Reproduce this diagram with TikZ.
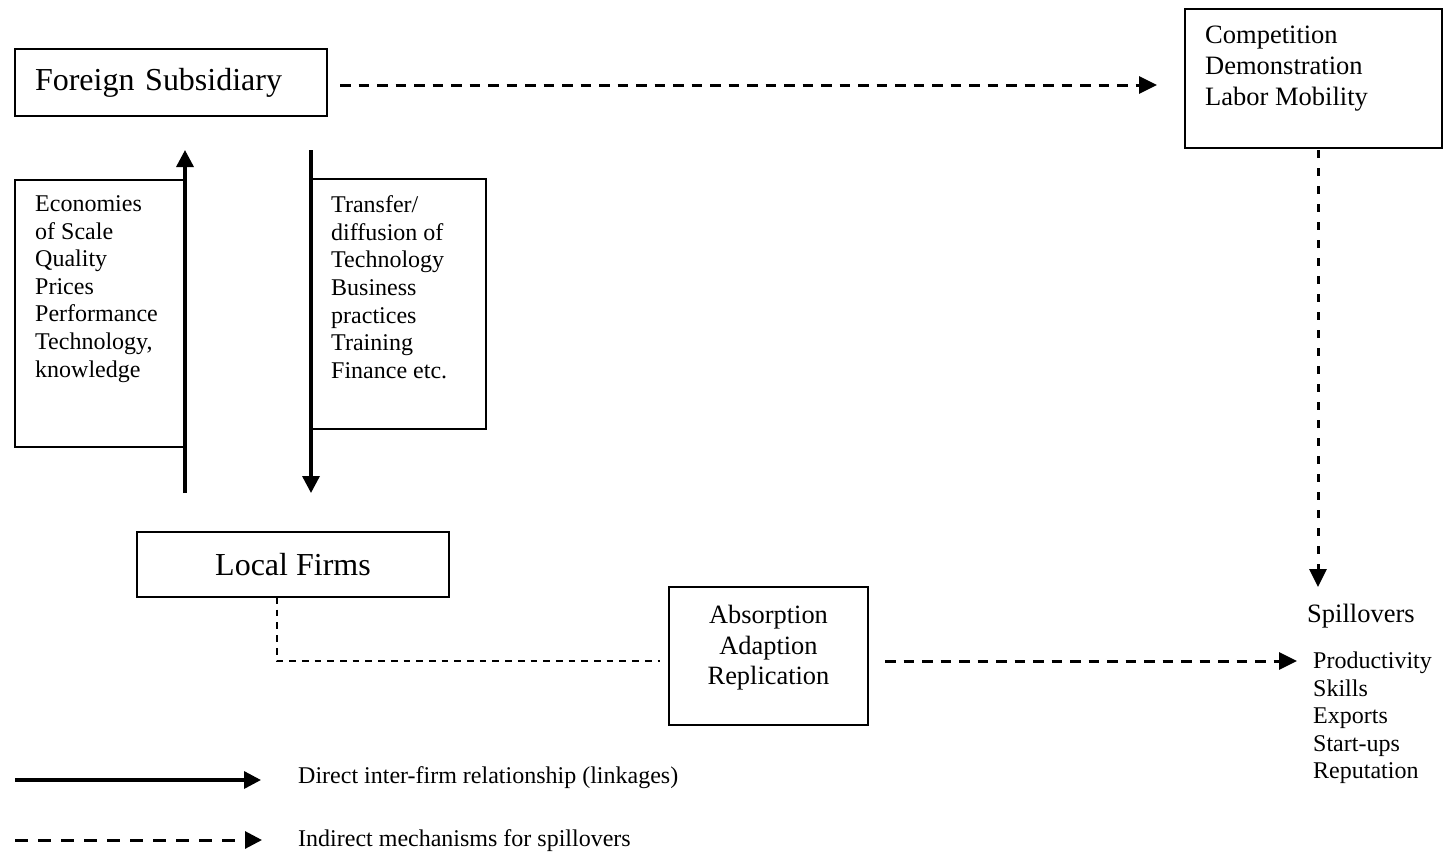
\documentclass[tikz,border=0pt]{standalone}
\usepackage{fontspec}
\setmainfont{Liberation Serif}
\usetikzlibrary{arrows.meta}
\begin{document}
\begin{tikzpicture}[x=1pt,y=-1pt,
  box/.style={draw, line width=1.8pt, inner sep=0pt},
  bigtxt/.style={font=\fontsize{32}{38}\selectfont},
  midtxt/.style={font=\fontsize{26.5}{31}\selectfont, inner sep=0pt},
  listtxt/.style={font=\fontsize{24}{27.6}\selectfont, align=left, inner sep=0pt},
  link/.style={line width=3.4pt, -{Triangle[length=17pt,width=17pt]}},
  spill/.style={line width=3pt, dash pattern=on 10.5pt off 8pt,
                -{Triangle[length=18pt,width=17pt]}},
  weak/.style={line width=1.9pt, dash pattern=on 6.7pt off 6pt},
]
\useasboundingbox (0,0) rectangle (1444,855);

% foreign subsidiary
\node[box, bigtxt, text width=272pt, inner xsep=20pt, align=left,
      minimum height=67pt] (fs) at (171,82.5) {Foreign Subsidiary};

% backward linkage box and arrow
\node[box, minimum width=170pt, minimum height=267pt] (econ) at (100,313.5) {};
\node[listtxt, anchor=north west] (econtxt) at (35,195.5)
  {Economies\\of Scale\\Quality\\Prices\\Performance\\Technology,\\knowledge};
\coordinate (upfoot) at (185,493);
\coordinate (uptip) at (185,150);
\draw[link] (upfoot) -- (uptip);

% forward linkage box and arrow
\node[box, minimum width=175pt, minimum height=250pt] (trans) at (398.5,304) {};
\node[listtxt, anchor=north west] (transtxt) at (331,195.5)
  {Transfer/\\diffusion of\\Technology\\Business\\practices\\Training\\Finance etc.};
\coordinate (downtop) at (311,150);
\coordinate (downtip) at (311,493);
\draw[link] (downtop) -- (downtip);

% local firms
\node[box, bigtxt, minimum width=312pt, minimum height=65pt] (lf) at (293,564.5) {Local Firms};

% spillover channels
\node[box, minimum width=257pt, minimum height=139pt] (comp) at (1313.5,78.5) {};
\node[midtxt, align=left, anchor=north west] (comptxt) at (1205,26)
  {Competition\\Demonstration\\Labor Mobility};

% absorptive capacity
\node[box, minimum width=199pt, minimum height=138pt] (absorb) at (768.5,656) {};
\node[midtxt, font=\fontsize{26.4}{30.5}\selectfont, align=center, anchor=north]
  (absorbtxt) at (768.5,605) {Absorption\\Adaption\\Replication};

% spillover outcomes
\node[midtxt, anchor=base west] (spl) at (1307,622) {Spillovers};
\node[listtxt, anchor=north west] (outcomes) at (1313,651.6)
  {Productivity\\Skills\\Exports\\Start-ups\\Reputation};

% indirect mechanisms
\coordinate (fsout) at (340,85);
\coordinate (compin) at (1157,85);
\draw[spill] (fsout) -- (compin);
\coordinate (compout) at (1318,150);
\coordinate (splin) at (1318,587);
\draw[spill, dash pattern=on 8pt off 10pt] (compout) -- (splin);
\coordinate (lfout) at (277,597);
\coordinate (absorbin) at (660,661);
\draw[weak] (lfout) |- (absorbin);
\coordinate (absorbout) at (885,661);
\coordinate (outin) at (1297,661);
\draw[spill] (absorbout) -- (outin);

% legend
\coordinate (lga) at (15,780);
\coordinate (lgb) at (261,780);
\draw[link] (lga) -- (lgb);
\node[listtxt, anchor=west] (lgdirect) at (298,778) {Direct inter-firm relationship (linkages)};
\coordinate (lgc) at (15,840);
\coordinate (lgd) at (262,840);
\draw[spill, dash pattern=on 13pt off 10pt, -{Triangle[length=17pt,width=17pt]}] (lgc) -- (lgd);
\node[listtxt, anchor=west] (lgindirect) at (298,841) {Indirect mechanisms for spillovers};
\end{tikzpicture}
\end{document}
